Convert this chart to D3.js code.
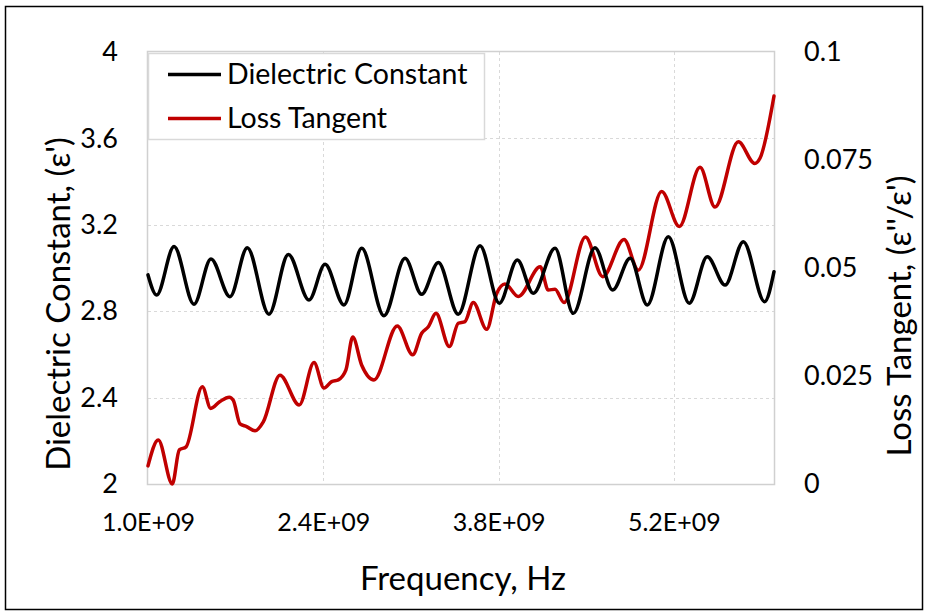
<!DOCTYPE html>
<html>
<head>
<meta charset="utf-8">
<script src="https://cdn.jsdelivr.net/npm/d3@7"></script>
<style>
  html, body { margin: 0; padding: 0; background: #fff; }
  svg { display: block; }
  text { font-family: Lato, "Open Sans", sans-serif; fill: #000; }
</style>
</head>
<body>
<svg id="chart" width="928" height="612"></svg>
<script>
// ---- data (frequency in GHz, converted to Hz below) ----
const dcFreqGHz = [1.00, 1.069, 1.208, 1.367, 1.503, 1.655, 1.793, 1.966, 2.121, 2.286, 2.414, 2.565, 2.707, 2.885, 3.053, 3.186, 3.319, 3.478, 3.652, 3.806, 3.950, 4.077, 4.251, 4.397, 4.570, 4.712, 4.851, 4.988, 5.156, 5.323, 5.467, 5.609, 5.755, 5.925, 6.00];
const dcValues   = [2.968, 2.875, 3.099, 2.832, 3.042, 2.867, 3.094, 2.786, 3.063, 2.852, 3.017, 2.829, 3.091, 2.779, 3.045, 2.878, 3.026, 2.786, 3.103, 2.837, 3.037, 2.883, 3.091, 2.790, 3.094, 2.898, 3.045, 2.829, 3.145, 2.837, 3.052, 2.921, 3.122, 2.844, 2.983];

const ltFreqGHz = [1.00, 1.082, 1.194, 1.250, 1.304, 1.434, 1.501, 1.575, 1.649, 1.681, 1.735, 1.788, 1.855, 1.921, 2.054, 2.208, 2.326, 2.406, 2.467, 2.520, 2.581, 2.635, 2.707, 2.805, 2.991, 3.114, 3.186, 3.239, 3.300, 3.407, 3.478, 3.532, 3.598, 3.705, 3.785, 3.851, 3.958, 4.133, 4.197, 4.251, 4.323, 4.494, 4.632, 4.802, 4.916, 5.103, 5.244, 5.409, 5.529, 5.715, 5.846, 5.888, 6.00];
const ltValues   = [0.0042, 0.0102, 0.0000, 0.0079, 0.0086, 0.0225, 0.0175, 0.0191, 0.0201, 0.0194, 0.0139, 0.0133, 0.0123, 0.0144, 0.0252, 0.0183, 0.0281, 0.0222, 0.0237, 0.0241, 0.0264, 0.0340, 0.0275, 0.0241, 0.0366, 0.0299, 0.0349, 0.0364, 0.0395, 0.0318, 0.0372, 0.0376, 0.0420, 0.0358, 0.0441, 0.0463, 0.0434, 0.0503, 0.0449, 0.0451, 0.0420, 0.0572, 0.0480, 0.0566, 0.0495, 0.0677, 0.0596, 0.0733, 0.0641, 0.0792, 0.0742, 0.0754, 0.0898];

const xTicks = [1.0e9, 2.4e9, 3.8e9, 5.2e9];
const xTickLabels = ["1.0E+09", "2.4E+09", "3.8E+09", "5.2E+09"];
const yLeftTicks = [2, 2.4, 2.8, 3.2, 3.6, 4];
const yLeftTickLabels = ["2", "2.4", "2.8", "3.2", "3.6", "4"];
const yRightTicks = [0, 0.025, 0.05, 0.075, 0.1];
const yRightTickLabels = ["0", "0.025", "0.05", "0.075", "0.1"];
const seriesNames = ["Dielectric Constant", "Loss Tangent"];
const seriesColors = ["#000000", "#c00000"];

// ---- layout ----
const svg = d3.select("#chart");
const W = 928, H = 612;
const plot = { left: 148, right: 774, top: 52, bottom: 484 };

const x = d3.scaleLinear().domain([1e9, 6e9]).range([plot.left, plot.right]);
const yL = d3.scaleLinear().domain([2, 4]).range([plot.bottom, plot.top]);
const yR = d3.scaleLinear().domain([0, 0.1]).range([plot.bottom, plot.top]);

// outer border
svg.append("rect").attr("x", 5.5).attr("y", 6.5).attr("width", W - 11).attr("height", H - 9)
  .attr("fill", "none").attr("stroke", "#000").attr("stroke-width", 1.5);

// gridlines
const grid = svg.append("g");
grid.selectAll(".hg").data(yLeftTicks.filter(d => d > 2 && d < 4)).join("line")
  .attr("x1", plot.left).attr("x2", plot.right)
  .attr("y1", d => Math.round(yL(d)) + 0.5).attr("y2", d => Math.round(yL(d)) + 0.5)
  .attr("stroke", "#d9d9d9").attr("stroke-width", 1).attr("stroke-dasharray", "3,3");
grid.selectAll(".vg").data(xTicks.filter(d => d > 1e9)).join("line")
  .attr("x1", d => Math.round(x(d)) + 0.5).attr("x2", d => Math.round(x(d)) + 0.5)
  .attr("y1", plot.top).attr("y2", plot.bottom)
  .attr("stroke", "#d9d9d9").attr("stroke-width", 1).attr("stroke-dasharray", "3,3");

// plot border
svg.append("rect").attr("x", plot.left - 0.5).attr("y", plot.top - 0.5)
  .attr("width", plot.right - plot.left + 1).attr("height", plot.bottom - plot.top + 1)
  .attr("fill", "none").attr("stroke", "#d0d0d0").attr("stroke-width", 1.5);

// lines
const dcData = dcFreqGHz.map((f, i) => [f * 1e9, dcValues[i]]);
const ltData = ltFreqGHz.map((f, i) => [f * 1e9, ltValues[i]]);

svg.append("path").datum(ltData)
  .attr("d", d3.line().x(d => x(d[0])).y(d => yR(d[1])).curve(d3.curveMonotoneX))
  .attr("fill", "none").attr("stroke", seriesColors[1]).attr("stroke-width", 3.5)
  .attr("stroke-linejoin", "round").attr("stroke-linecap", "round");
svg.append("path").datum(dcData)
  .attr("d", d3.line().x(d => x(d[0])).y(d => yL(d[1])).curve(d3.curveMonotoneX))
  .attr("fill", "none").attr("stroke", seriesColors[0]).attr("stroke-width", 3.5)
  .attr("stroke-linejoin", "round").attr("stroke-linecap", "round");

// axes (labels only, no tick marks)
const fs = 27;
const axL = svg.append("g").attr("transform", `translate(118,0)`)
  .call(d3.axisLeft(yL).tickValues(yLeftTicks).tickSize(0).tickPadding(0)
    .tickFormat((d, i) => yLeftTickLabels[i]));
axL.select(".domain").remove();
axL.selectAll("text").attr("font-size", fs).attr("font-family", "Lato, sans-serif").attr("fill", "#000");

const axR = svg.append("g").attr("transform", `translate(804,0)`)
  .call(d3.axisRight(yR).tickValues(yRightTicks).tickSize(0).tickPadding(0)
    .tickFormat((d, i) => yRightTickLabels[i]));
axR.select(".domain").remove();
axR.selectAll("text").attr("font-size", fs).attr("font-family", "Lato, sans-serif").attr("fill", "#000");

const axB = svg.append("g").attr("transform", `translate(0,${plot.bottom + 29})`)
  .call(d3.axisBottom(x).tickValues(xTicks).tickSize(0).tickPadding(0)
    .tickFormat((d, i) => xTickLabels[i]));
axB.select(".domain").remove();
axB.selectAll("text").attr("font-size", 25).attr("font-family", "Lato, sans-serif").attr("fill", "#000");

// axis titles
svg.append("text").attr("x", 463).attr("y", 590).attr("text-anchor", "middle")
  .attr("font-size", 33).text("Frequency, Hz");
svg.append("text").attr("transform", "translate(70,304) rotate(-90)").attr("text-anchor", "middle")
  .attr("font-size", 33).text("Dielectric Constant, (ε')");
svg.append("text").attr("transform", "translate(911,316) rotate(-90)").attr("text-anchor", "middle")
  .attr("font-size", 33).text("Loss Tangent, (ε''/ε')");

// legend
const lg = svg.append("g");
lg.append("rect").attr("x", 148.5).attr("y", 53.5).attr("width", 336).attr("height", 86)
  .attr("fill", "#fff").attr("stroke", "#d9d9d9").attr("stroke-width", 1.5);
const rowsY = [74.5, 118.5];
seriesNames.forEach((name, i) => {
  lg.append("line").attr("x1", 168).attr("x2", 221).attr("y1", rowsY[i]).attr("y2", rowsY[i])
    .attr("stroke", seriesColors[i]).attr("stroke-width", 3.5);
  lg.append("text").attr("x", 227).attr("y", rowsY[i]).attr("dy", "0.35em")
    .attr("font-size", 28.5).text(name);
});
</script>
</body>
</html>
